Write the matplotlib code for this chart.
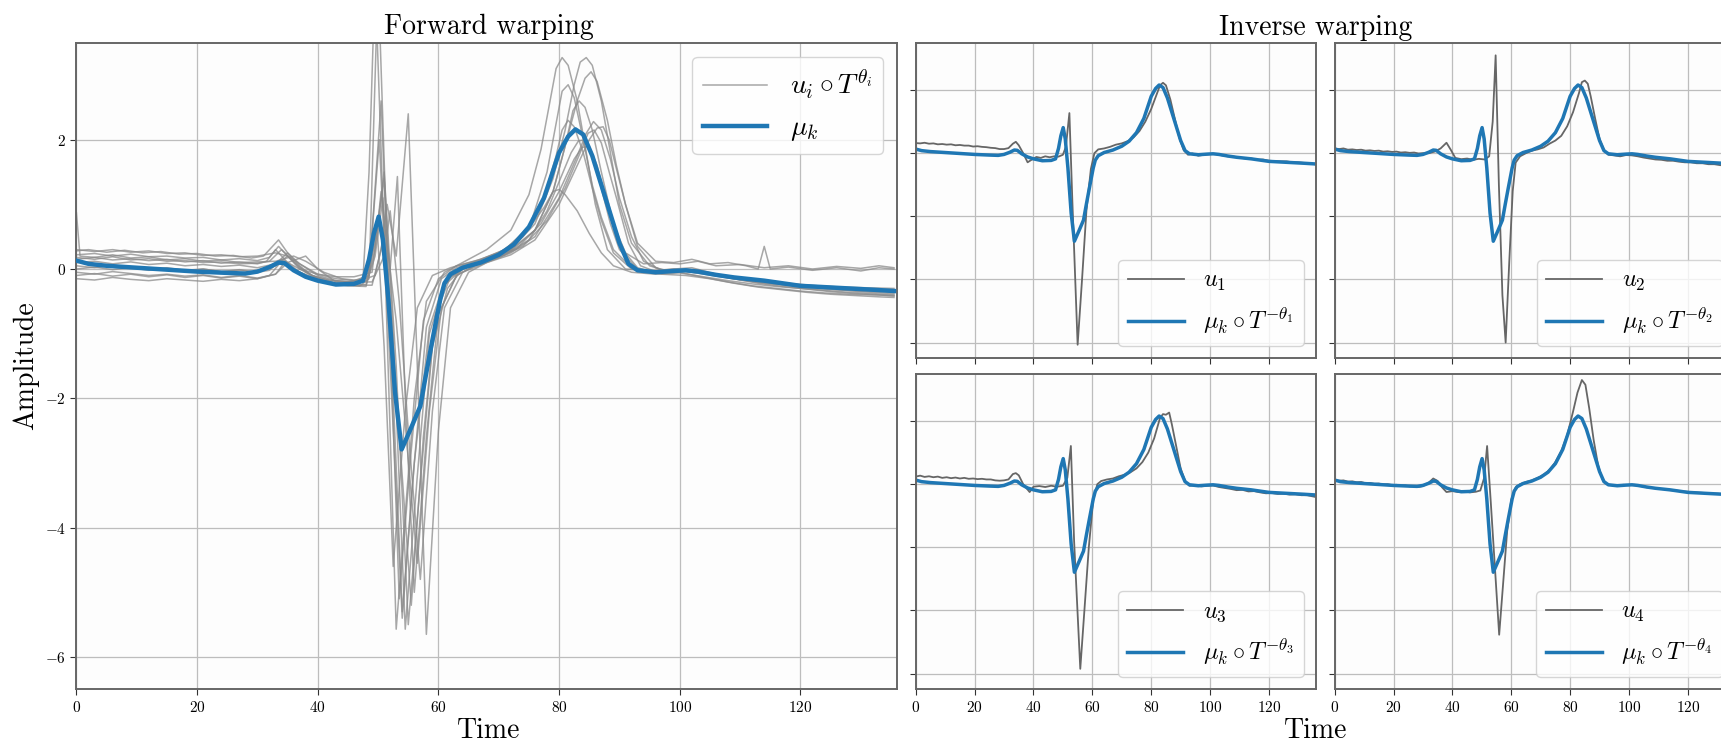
import matplotlib.pyplot as plt

plt.rcParams['font.family'] = 'serif'
plt.rcParams['font.serif'] = ['cmr10']
plt.rcParams['mathtext.fontset'] = 'cm'
plt.rcParams['axes.formatter.use_mathtext'] = True

# --- data: (time, amplitude) knots ---

# mean template mu_k (blue)
mu_k = [(0, 0.13), (2, 0.08), (5, 0.05), (10, 0.02), (15, -0.01), (20, -0.04), (25, -0.06), (28, -0.07),
        (30, -0.04), (32, 0.03), (33.5, 0.1), (34.5, 0.09), (36, -0.02), (38, -0.12), (40, -0.18), (43, -0.24),
        (46, -0.23), (47.5, -0.18), (48.5, 0.15), (49.3, 0.55), (50.1, 0.81), (50.8, 0.45), (51.7, -0.47),
        (52.8, -1.9), (53.9, -2.79), (55.5, -2.45), (57, -2.12), (58, -1.6), (59, -1.1), (60.3, -0.47),
        (61, -0.22), (62, -0.08), (64, 0.02), (67, 0.1), (70, 0.22), (72.5, 0.38), (75, 0.65), (77.5, 1.1),
        (80, 1.8), (81.5, 2.05), (82.7, 2.16), (84, 2.08), (85.5, 1.75), (87, 1.3), (88.5, 0.85), (90, 0.4),
        (91.5, 0.08), (93, -0.02), (96, -0.05), (99, -0.03), (101, -0.02), (103, -0.04), (106, -0.09),
        (109, -0.13), (112, -0.16), (114, -0.18), (117, -0.22), (120, -0.26), (124, -0.28), (128, -0.3),
        (132, -0.32), (135.5, -0.34)]

# forward-warped signals u_i o T^theta_i (grey)
warped_01 = [(0, 0.28), (2, 0.3), (5, 0.26), (8, 0.29), (11, 0.25), (14, 0.27), (17, 0.23), (20, 0.24), (23, 0.2),
             (26, 0.21), (29, 0.17), (31, 0.2), (33.5, 0.45), (35, 0.25), (37, 0.05), (39, -0.1), (42, -0.17),
             (45, -0.2), (47.5, -0.15), (48.5, 1.5), (49.5, 4.5), (51, 0.5), (53, -5.57), (56, -2.0), (58, -0.5),
             (61, -0.05), (64, 0.1), (68, 0.3), (72, 0.6), (75, 1.15), (77, 1.85), (78.5, 2.6), (79.5, 3.1),
             (80.5, 3.27), (81.5, 3.15), (83, 2.6), (84.5, 1.8), (86, 1.0), (88, 0.3), (91, 0.0), (95, -0.03),
             (99, 0.0), (102, 0.02), (106, -0.08), (110, -0.15), (114, -0.2), (118, -0.25), (122, -0.28),
             (126, -0.32), (130, -0.35), (135.5, -0.38)]
warped_02 = [(0, 0.18), (3, 0.15), (6, 0.19), (9, 0.14), (12, 0.16), (15, 0.12), (18, 0.13), (21, 0.1), (24, 0.11),
             (27, 0.08), (30, 0.09), (32, 0.12), (34, 0.3), (36, 0.12), (38, -0.05), (41, -0.18), (44, -0.24),
             (47, -0.26), (48.5, -0.15), (50, 4.5), (51.5, 0.3), (54, -5.3), (56, -3.0), (58.5, -0.9), (61, -0.2),
             (64, 0.0), (68, 0.15), (72, 0.3), (76, 0.7), (79, 1.4), (81, 2.15), (82.5, 2.85), (83.5, 3.2),
             (84.5, 3.27), (85.5, 3.15), (87, 2.6), (88.5, 1.8), (90, 1.0), (92, 0.4), (95, 0.05), (98, -0.04),
             (101, 0.0), (105, -0.08), (109, -0.15), (113, -0.22), (117, -0.27), (121, -0.31), (125, -0.35),
             (129, -0.38), (133, -0.4), (135.5, -0.42)]
warped_03 = [(0, 0.05), (3, 0.02), (6, 0.06), (9, 0.03), (12, 0.0), (15, 0.02), (18, -0.02), (21, 0.0), (24, -0.04),
             (27, -0.02), (30, -0.05), (33, 0.05), (35, 0.2), (37, 0.02), (40, -0.15), (43, -0.22), (46, -0.25),
             (48.5, -0.1), (50.5, 2.6), (52, -1.0), (53.5, -5.1), (55.5, -2.8), (57.5, -0.8), (60, -0.15),
             (63, 0.05), (67, 0.15), (71, 0.3), (75, 0.65), (77.5, 1.1), (79.5, 1.75), (80.5, 2.15), (81.5, 2.3),
             (82.5, 2.2), (84, 1.8), (85.5, 1.25), (87, 0.75), (89, 0.25), (92, 0.0), (96, -0.06), (100, -0.03),
             (103, -0.02), (107, -0.1), (111, -0.16), (115, -0.2), (119, -0.24), (123, -0.27), (127, -0.3),
             (131, -0.33), (135.5, -0.35)]
warped_04 = [(0, 0.22), (3, 0.24), (6, 0.2), (9, 0.23), (12, 0.19), (15, 0.2), (18, 0.17), (21, 0.18), (24, 0.14),
             (27, 0.16), (30, 0.13), (32, 0.18), (33.5, 0.35), (35, 0.2), (37, 0.0), (40, -0.08), (43, -0.12),
             (46, -0.12), (49, -0.05), (51, 1.5), (53, -1.5), (55, -5.5), (57, -3.3), (59, -1.2), (61.5, -0.3),
             (64, 0.0), (68, 0.12), (72, 0.28), (76, 0.6), (79, 1.2), (81, 1.9), (83, 2.6), (84.3, 2.95),
             (85.3, 3.05), (86.3, 2.9), (88, 2.3), (89.5, 1.6), (91, 1.0), (93, 0.4), (96, 0.12), (99, 0.1),
             (102, 0.15), (105, 0.08), (108, 0.1), (111, 0.05), (113, 0.0), (114, 0.35), (115, 0.0), (118, 0.03),
             (122, -0.02), (126, 0.02), (130, -0.03), (133, 0.02), (135.5, 0.0)]
warped_05 = [(0, -0.05), (3, -0.08), (6, -0.04), (9, -0.07), (12, -0.1), (15, -0.08), (18, -0.11), (21, -0.09),
             (24, -0.13), (27, -0.1), (30, -0.14), (33, -0.08), (35, 0.1), (38, 0.2), (40, 0.0), (43, -0.2),
             (46, -0.25), (49, -0.25), (50.5, 0.3), (51.5, 1.0), (53, 0.2), (55, 2.4), (56.5, -1.5), (58, -5.65),
             (60, -2.5), (62, -0.6), (65, -0.05), (68, 0.1), (72, 0.25), (76, 0.5), (80, 1.1), (83, 1.75),
             (84.5, 2.1), (85.7, 2.28), (87, 2.15), (88.5, 1.7), (90, 1.1), (92, 0.5), (94, 0.12), (97, -0.02),
             (100, -0.03), (103, -0.06), (107, -0.1), (111, -0.15), (115, -0.2), (119, -0.23), (123, -0.26),
             (127, -0.28), (131, -0.29), (135.5, -0.3)]
warped_06 = [(0, 0.3), (3, 0.27), (6, 0.3), (9, 0.26), (12, 0.28), (15, 0.24), (18, 0.25), (21, 0.21), (24, 0.22),
             (27, 0.19), (30, 0.2), (33, 0.25), (35, 0.2), (37, 0.08), (40, -0.08), (43, -0.15), (46, -0.18),
             (48.5, -0.1), (49.8, 0.7), (51, -1.2), (52.5, -4.6), (54.5, -2.2), (56.5, -0.6), (59, -0.1), (62, 0.02),
             (66, 0.12), (70, 0.25), (74, 0.5), (77.5, 0.95), (79, 1.2), (80, 1.23), (81, 1.15), (83, 0.9),
             (85, 0.55), (87, 0.25), (89, 0.05), (92, -0.05), (96, -0.08), (100, -0.06), (104, -0.12), (108, -0.18),
             (112, -0.23), (116, -0.27), (120, -0.3), (124, -0.33), (128, -0.36), (132, -0.38), (135.5, -0.4)]
warped_07 = [(0, 0.0), (3, 0.03), (6, -0.01), (9, 0.02), (12, -0.02), (15, 0.01), (18, -0.03), (21, 0.0), (24, -0.04),
             (27, -0.01), (30, -0.05), (32, -0.02), (34, 0.15), (36, 0.05), (39, -0.1), (42, -0.18), (45, -0.2),
             (48, -0.18), (49.5, 0.4), (51, 1.4), (52.5, -1.0), (54.5, -5.57), (56.5, -3.2), (58.5, -1.0),
             (61, -0.25), (64, 0.0), (68, 0.14), (72, 0.3), (76, 0.6), (79, 1.2), (81, 1.9), (82.3, 2.45),
             (83.3, 2.6), (84.3, 2.5), (85.5, 2.15), (87, 1.5), (89, 0.7), (91, 0.25), (94, 0.08), (97, 0.1),
             (100, 0.08), (103, 0.12), (106, 0.05), (110, 0.07), (114, 0.02), (118, 0.05), (122, 0.0), (126, 0.04),
             (130, 0.01), (133, 0.05), (135.5, 0.02)]
warped_08 = [(0, -0.15), (3, -0.17), (6, -0.13), (9, -0.16), (12, -0.18), (15, -0.15), (18, -0.17), (21, -0.19),
             (24, -0.16), (27, -0.18), (30, -0.15), (33, -0.08), (34.5, 0.1), (36, -0.02), (39, -0.15), (42, -0.22),
             (45, -0.26), (48, -0.27), (49.5, 0.3), (50.5, 1.2), (52, 0.0), (53.2, 1.43), (54.5, -2.0), (56, -5.0),
             (58, -2.6), (60, -0.7), (63, -0.1), (67, 0.1), (71, 0.22), (75, 0.45), (78, 0.9), (80, 1.35), (82, 1.8),
             (83.2, 1.98), (84.3, 2.0), (85.5, 1.75), (87, 1.25), (88.5, 0.7), (90, 0.3), (93, 0.0), (97, -0.08),
             (101, -0.1), (105, -0.15), (109, -0.22), (113, -0.28), (117, -0.32), (121, -0.36), (125, -0.39),
             (129, -0.41), (133, -0.43), (135.5, -0.44)]
warped_09 = [(0, 0.1), (3, 0.12), (6, 0.08), (9, 0.11), (12, 0.07), (15, 0.09), (18, 0.05), (21, 0.07), (24, 0.04),
             (27, 0.06), (30, 0.02), (33, 0.08), (35, 0.25), (37, 0.08), (40, -0.1), (43, -0.18), (46, -0.2),
             (49, -0.2), (51, 0.2), (52, 0.9), (53.5, -0.5), (55, -2.5), (57, -4.8), (59, -2.2), (61, -0.6),
             (64, -0.05), (68, 0.1), (72, 0.22), (76, 0.45), (80, 1.0), (83, 1.6), (85, 2.0), (86.3, 2.18),
             (87.3, 2.2), (88.3, 2.0), (89.5, 1.55), (91, 1.0), (93, 0.35), (96, 0.02), (99, -0.05), (102, -0.02),
             (106, -0.1), (110, -0.16), (114, -0.2), (118, -0.24), (122, -0.27), (126, -0.29), (130, -0.31),
             (133, -0.32), (135.5, -0.32)]
warped_10 = [(0, 0.15), (3, 0.18), (6, 0.14), (9, 0.16), (12, 0.13), (15, 0.15), (18, 0.11), (21, 0.13), (24, 0.09),
             (27, 0.11), (30, 0.08), (31.5, 0.12), (33, 0.3), (35, 0.1), (37, -0.05), (40, -0.15), (43, -0.22),
             (46, -0.24), (48.5, -0.05), (50.2, 2.0), (52, -1.5), (54, -5.4), (56, -3.0), (58, -0.9), (60.5, -0.15),
             (63, 0.02), (67, 0.14), (71, 0.3), (75, 0.62), (78, 1.5), (79.5, 2.25), (80.5, 2.75), (81.5, 2.85),
             (82.5, 2.65), (84, 2.0), (85.5, 1.3), (87, 0.8), (89, 0.3), (92, 0.02), (95, -0.04), (99, 0.0),
             (102, -0.03), (106, -0.1), (110, -0.17), (114, -0.22), (118, -0.26), (122, -0.3), (126, -0.32),
             (130, -0.34), (133, -0.35), (135.5, -0.36)]
warped_11 = [(0, -0.1), (3, -0.07), (6, -0.11), (9, -0.08), (12, -0.12), (15, -0.09), (18, -0.13), (21, -0.1),
             (24, -0.14), (27, -0.11), (30, -0.15), (32, -0.1), (34, 0.12), (36, 0.0), (39, -0.14), (42, -0.22),
             (45, -0.25), (48, -0.24), (49.5, 0.2), (50.8, 1.1), (52.5, -1.2), (55.5, -5.2), (57.5, -2.6),
             (59.5, -0.7), (62, -0.12), (65, 0.05), (69, 0.16), (73, 0.32), (77, 0.7), (80, 1.2), (82.5, 1.7),
             (83.8, 1.88), (85, 1.9), (86.3, 1.6), (88.5, 0.8), (90.5, 0.3), (93, 0.02), (96, -0.06), (100, -0.05),
             (104, -0.13), (108, -0.2), (112, -0.26), (116, -0.3), (120, -0.34), (124, -0.37), (128, -0.39),
             (132, -0.4), (135.5, -0.41)]
warped_12 = [(0, 0.87), (0.6, 0.2), (3, 0.18), (6, 0.22), (9, 0.17), (12, 0.19), (15, 0.14), (18, 0.16), (21, 0.12),
             (24, 0.14), (27, 0.1), (30, 0.11), (33, 0.12), (36, 0.2), (38, 0.12), (41, -0.05), (44, -0.15),
             (47, -0.18), (49.5, -0.1), (51.2, 0.6), (53, -0.8), (56.5, -4.55), (58.5, -2.2), (60.5, -0.6),
             (63, -0.1), (66, 0.05), (70, 0.18), (74, 0.35), (78, 0.75), (81, 1.25), (83.5, 1.8), (84.8, 2.1),
             (85.8, 2.15), (87, 1.95), (88.3, 1.5), (89.5, 1.1), (91.5, 0.4), (93.5, 0.05), (96, -0.04),
             (100, -0.02), (104, -0.08), (108, -0.14), (112, -0.19), (116, -0.23), (120, -0.26), (124, -0.28),
             (128, -0.3), (132, -0.31), (135.5, -0.32)]
warped = [warped_01, warped_02, warped_03, warped_04, warped_05, warped_06,
          warped_07, warped_08, warped_09, warped_10, warped_11, warped_12]

# raw signals u_1..u_4 (grey, right panels)
u_1 = [(0, 0.32), (1.5, 0.31), (3, 0.33), (4.5, 0.3), (6, 0.31), (7.5, 0.28), (9, 0.29), (10.5, 0.27), (12, 0.28),
       (13.5, 0.25), (15, 0.26), (16.5, 0.24), (18, 0.24), (19.5, 0.21), (21, 0.22), (22.5, 0.2), (24, 0.19),
       (25.5, 0.17), (27, 0.16), (28.5, 0.13), (30, 0.13), (31.5, 0.16), (33, 0.3), (34, 0.36), (35, 0.25),
       (36.5, 0.0), (38, -0.29), (39.5, -0.2), (41, -0.12), (42.5, -0.15), (44, -0.1), (45.5, -0.13), (47, -0.1),
       (48.5, -0.11), (50, -0.05), (51, 0.2), (52.2, 1.27), (53.2, -1.5), (55, -6.07), (56.5, -4.0), (58, -1.8),
       (59.5, -0.5), (60.7, 0.0), (62, 0.12), (64, 0.15), (66, 0.2), (68, 0.27), (70, 0.31), (72, 0.38), (74, 0.5),
       (76, 0.7), (78, 1.0), (80, 1.4), (82, 1.9), (83, 2.15), (84, 2.23), (85, 2.15), (86.5, 1.7), (88, 1.1),
       (89.5, 0.5), (91, 0.1), (92.5, -0.05), (94, -0.01), (96, -0.08), (98, -0.05), (100, -0.03), (102, -0.03),
       (104, -0.07), (106, -0.1), (108, -0.11), (110, -0.14), (112, -0.17), (114, -0.17), (116, -0.21),
       (118, -0.2), (120, -0.24), (122, -0.25), (124, -0.26), (126, -0.26), (128, -0.29), (130, -0.29),
       (132, -0.31), (134, -0.31), (135.5, -0.35)]
u_2 = [(0, 0.15), (1.5, 0.13), (3, 0.15), (4.5, 0.11), (6, 0.12), (7.5, 0.1), (9, 0.11), (10.5, 0.08), (12, 0.09),
       (13.5, 0.07), (15, 0.08), (16.5, 0.05), (18, 0.06), (19.5, 0.04), (21, 0.05), (22.5, 0.02), (24, 0.03),
       (25.5, 0.01), (27, 0.02), (28.5, -0.01), (30, 0.0), (32, 0.0), (34, 0.05), (36, 0.15), (38, 0.33),
       (39.5, 0.1), (41, -0.15), (43, -0.19), (45, -0.17), (47, -0.21), (49, -0.18), (51, -0.2), (52.5, -0.1),
       (53.7, 1.0), (54.7, 3.1), (55.8, -1.0), (57, -4.5), (58.1, -6.0), (59.3, -3.5), (60.5, -1.2), (61.5, -0.3),
       (63, -0.1), (65, 0.0), (67, 0.08), (69, 0.12), (71, 0.18), (73, 0.3), (75, 0.4), (77, 0.55), (79, 0.85),
       (81, 1.3), (83, 1.9), (84, 2.25), (85, 2.3), (86, 2.2), (87, 1.8), (88.5, 1.1), (90, 0.45), (91.5, 0.1),
       (93, -0.05), (95, -0.07), (97, -0.1), (99, -0.06), (101, -0.07), (103, -0.1), (105, -0.14), (107, -0.17),
       (109, -0.2), (111, -0.21), (113, -0.24), (115, -0.24), (117, -0.27), (119, -0.29), (121, -0.29),
       (123, -0.32), (125, -0.32), (127, -0.35), (129, -0.35), (131, -0.38), (133, -0.39), (135.5, -0.42)]
u_3 = [(0, 0.24), (1.5, 0.27), (3, 0.23), (4.5, 0.25), (6, 0.22), (7.5, 0.24), (9, 0.2), (10.5, 0.22), (12, 0.19),
       (13.5, 0.21), (15, 0.18), (16.5, 0.2), (18, 0.17), (19.5, 0.18), (21, 0.16), (22.5, 0.17), (24, 0.15),
       (25.5, 0.15), (27, 0.12), (28.5, 0.11), (30, 0.12), (31.5, 0.15), (33, 0.32), (34, 0.35), (35, 0.28),
       (36.5, 0.0), (38.7, -0.25), (40, -0.08), (42, -0.06), (44, -0.09), (46, -0.05), (48, -0.08), (50, -0.05),
       (51.5, 0.2), (52.7, 1.21), (53.8, -1.8), (55.9, -5.85), (57.3, -4.0), (58.8, -2.0), (60.3, -0.5),
       (61.7, 0.0), (63, 0.1), (65, 0.15), (67, 0.18), (69, 0.25), (71, 0.3), (73, 0.38), (75, 0.5), (77, 0.7),
       (79, 1.0), (81, 1.45), (83, 2.1), (84, 2.22), (85, 2.2), (86.1, 2.27), (87, 1.9), (88.5, 1.2), (90, 0.5),
       (91.5, 0.1), (93, -0.05), (95, -0.03), (97, -0.07), (99, -0.05), (101, -0.04), (103, -0.09), (105, -0.12),
       (107, -0.15), (109, -0.19), (111, -0.18), (113, -0.23), (115, -0.22), (117, -0.26), (119, -0.29),
       (121, -0.28), (123, -0.31), (125, -0.3), (127, -0.33), (129, -0.32), (131, -0.35), (133, -0.35),
       (135.5, -0.4)]
u_4 = [(0, 0.13), (1.5, 0.11), (3, 0.12), (4.5, 0.08), (6, 0.09), (7.5, 0.06), (9, 0.07), (10.5, 0.03), (12, 0.04),
       (13.5, 0.01), (15, 0.02), (16.5, -0.01), (18, 0.0), (19.5, -0.03), (21, -0.02), (22.5, -0.05), (24, -0.04),
       (25.5, -0.07), (27, -0.06), (28.5, -0.09), (30, -0.06), (32, 0.05), (33.5, 0.18), (35, 0.1), (36.5, -0.1),
       (38, -0.25), (40, -0.22), (42, -0.25), (44, -0.23), (46, -0.26), (48, -0.24), (49.5, -0.2), (50.8, 0.2),
       (51.8, 1.21), (53, -0.5), (55.9, -4.77), (57.2, -3.2), (58.6, -1.5), (60, -0.5), (61.5, -0.1), (63, 0.0),
       (65, 0.07), (67, 0.12), (69, 0.2), (71, 0.3), (73, 0.45), (75, 0.7), (77, 1.05), (79, 1.55), (81, 2.3),
       (82.5, 2.9), (84, 3.3), (85.2, 3.15), (86.5, 2.4), (88, 1.4), (89.5, 0.6), (91, 0.15), (92.5, 0.0),
       (94, -0.03), (96, -0.05), (98, -0.02), (100, -0.03), (102, -0.02), (104, -0.06), (106, -0.1), (108, -0.12),
       (110, -0.15), (112, -0.16), (114, -0.19), (116, -0.2), (118, -0.23), (120, -0.24), (122, -0.26),
       (124, -0.27), (126, -0.28), (128, -0.3), (130, -0.3), (132, -0.31), (134, -0.32), (135.5, -0.33)]
raw = [u_1, u_2, u_3, u_4]

x_ticks = [0, 20, 40, 60, 80, 100, 120]
y_ticks = [-6, -4, -2, 0, 2]

BLUE = '#1f77b4'


def style(ax):
    ax.set_facecolor('#fdfdfd')
    ax.set_xlim(0, 136)
    ax.set_ylim(-6.5, 3.5)
    ax.set_xticks(x_ticks)
    ax.set_yticks(y_ticks)
    ax.grid(True, color='#bdbdbd', lw=0.9)
    ax.set_axisbelow(True)
    for s in ax.spines.values():
        s.set_color('#666666')
        s.set_linewidth(1.4)
    ax.tick_params(labelsize=11, length=4, color='#333333')


W, H = 1721, 744
fig = plt.figure(figsize=(W / 100, H / 100), dpi=100)

# forward warping panel
ax = fig.add_axes([0.0444, 0.0735, 0.4768, 0.8691])
style(ax)
for i, c in enumerate(warped):
    t, u = zip(*c)
    ax.plot(t, u, color='#8a8a8a', alpha=0.75, lw=1.1,
            label=r'$u_i \circ T^{\theta_i}$' if i == 0 else None)
t, u = zip(*mu_k)
ax.plot(t, u, color=BLUE, lw=3.2, label=r'$\mu_k$', zorder=5)
ax.legend(loc='upper right', fontsize=20, handlelength=2.3)

# inverse warping panels
lefts = [0.5321, 0.7755]
bottoms = [0.5184, 0.0735]
for k in range(4):
    r, c = divmod(k, 2)
    a = fig.add_axes([lefts[c], bottoms[r], 0.2326, 0.4242])
    style(a)
    a.set_yticklabels([])
    if r == 0:
        a.set_xticklabels([])
    t, u = zip(*raw[k])
    a.plot(t, u, color='#666666', lw=1.3, label=r'$u_%d$' % (k + 1))
    t, u = zip(*mu_k)
    a.plot(t, u, color=BLUE, lw=2.5, label=r'$\mu_k \circ T^{-\theta_%d}$' % (k + 1))
    a.legend(loc='lower right', fontsize=17.5, handlelength=2.3)

fig.text(489 / W, 1 - 34 / H, 'Forward warping', fontsize=20, ha='center', va='baseline')
fig.text(1316 / W, 1 - 35 / H, 'Inverse warping', fontsize=20, ha='center', va='baseline')
fig.text(489 / W, 1 - 738 / H, 'Time', fontsize=20, ha='center', va='baseline')
fig.text(1316 / W, 1 - 738 / H, 'Time', fontsize=20, ha='center', va='baseline')
fig.text(26 / W, 1 - 366 / H, 'Amplitude', fontsize=20, ha='center', va='center', rotation=90)

fig.savefig('out.png', dpi=100)
